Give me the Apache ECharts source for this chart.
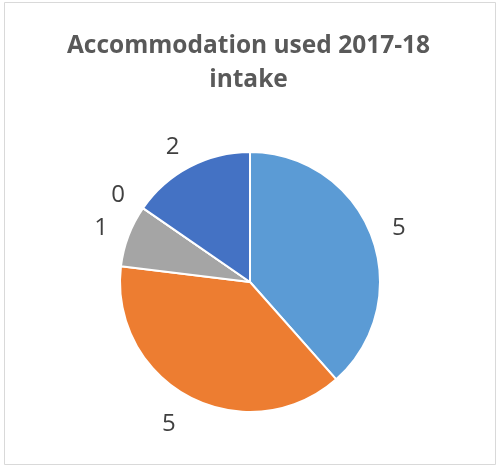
<!DOCTYPE html>
<html>
<head>
<meta charset="utf-8">
<script src="https://cdn.jsdelivr.net/npm/echarts@6/dist/echarts.min.js"></script>
<style>
  html, body { margin: 0; padding: 0; background: #fff; }
  #chart { width: 497px; height: 466px; }
</style>
</head>
<body>
<div id="chart"></div>
<script>
// accommodation types (names not shown on the chart)
const categories = ['Type 1', 'Type 2', 'Type 3', 'Type 4', 'Type 5'];
const counts = [5, 5, 1, 0, 2];
const colors = ['#5B9BD5', '#ED7D31', '#A5A5A5', '#FFC000', '#4472C4'];

const chart = echarts.init(document.getElementById('chart'));

let pieData = [];
for (let i = 0; i < categories.length; i++) {
    let item = { name: categories[i], value: counts[i], itemStyle: { color: colors[i] } };
    // excel pushes the bottom label a bit further out
    if (i === 1) item.labelLine = { show: false, length: 30, length2: 0 };
    pieData.push(item);
}

const option = {
    animation: false,
    backgroundColor: '#fff',
    title: {
        text: 'Accommodation used 2017-18\nintake',
        left: 'center',
        top: 24,
        textStyle: {
            fontFamily: 'Open Sans',
            fontWeight: 'bold',
            fontSize: 24.5,
            lineHeight: 34,
            color: '#595959'
        }
    },
    graphic: [{
        type: 'rect',
        shape: { x: 4.5, y: 2.5, width: 491, height: 462 },
        style: { fill: 'none', stroke: '#d9d9d9', lineWidth: 1 },
        silent: true
    }],
    series: [{
        type: 'pie',
        center: [250, 282],
        radius: 130,
        startAngle: 90,
        clockwise: true,
        avoidLabelOverlap: false,
        stillShowZeroSum: true,
        itemStyle: { borderColor: '#fff', borderWidth: 2 },
        label: {
            show: true,
            position: 'outside',
            formatter: '{c}',
            fontFamily: 'Open Sans',
            fontSize: 24,
            color: '#404040',
            distanceToLabelLine: 0
        },
        labelLine: { show: false, length: 22, length2: 0 },
        emphasis: { disabled: true },
        data: pieData
    }]
};
chart.setOption(option);
</script>
</body>
</html>
